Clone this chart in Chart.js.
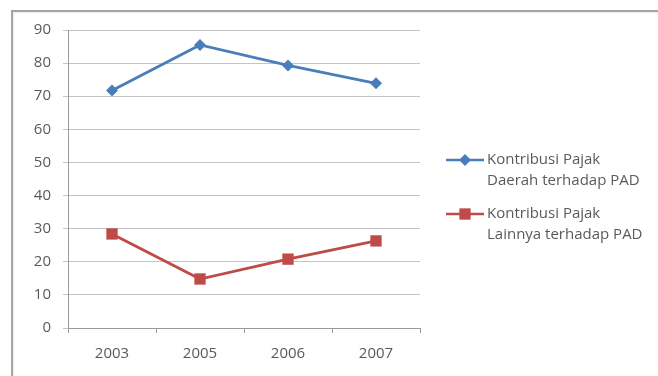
<!DOCTYPE html>
<html>
<head>
<meta charset="utf-8">
<script src="https://cdn.jsdelivr.net/npm/chart.js@4"></script>
<style>
  html, body { margin: 0; padding: 0; background: #fff; }
  body { width: 658px; height: 376px; position: relative; overflow: hidden; }
  #frame {
    position: absolute; left: 11px; top: 10px; width: 720px; height: 420px;
    border-left: 2px solid #a5a5a5; border-top: 2px solid #a5a5a5;
    box-shadow: inset 1px 1px 2px rgba(0,0,0,0.08);
  }
  #wrap { position: absolute; left: 0; top: 0; width: 658px; height: 376px; }
</style>
</head>
<body>
<div id="frame"></div>
<div id="wrap"><canvas id="chart" width="658" height="376"></canvas></div>
<script>
const years = ["2003", "2005", "2006", "2007"];
const pajakDaerah = [71.7, 85.5, 79.3, 73.9];
const pajakLainnya = [28.4, 14.8, 20.8, 26.3];
const labelDaerah = ["Kontribusi Pajak", "Daerah terhadap PAD"];
const labelLainnya = ["Kontribusi Pajak", "Lainnya terhadap PAD"];
const yTicks = [0, 10, 20, 30, 40, 50, 60, 70, 80, 90];

const textColor = "#5a5a5a";
const fontFamily = "'Open Sans', sans-serif";

// legend on the right, drawn by hand so the labels can wrap on two lines
const sideLegend = {
  id: "sideLegend",
  afterDraw(chart) {
    const ctx = chart.ctx;
    const rows = [160, 214];
    ctx.save();
    chart.data.datasets.forEach((ds, i) => {
      const y = rows[i];
      ctx.strokeStyle = ds.borderColor;
      ctx.lineWidth = 2.5;
      ctx.beginPath();
      ctx.moveTo(446, y);
      ctx.lineTo(484, y);
      ctx.stroke();
      ctx.fillStyle = ds.pointBackgroundColor;
      Chart.helpers.drawPoint(ctx, {
        pointStyle: ds.pointStyle,
        radius: ds.pointRadius,
        rotation: 0,
        borderWidth: 0
      }, 465, y);
      ctx.fillStyle = textColor;
      ctx.font = "15px " + fontFamily;
      ctx.textBaseline = "middle";
      ctx.textAlign = "left";
      ds.label.forEach((line, j) => {
        ctx.fillText(line, 487, y + j * 21);
      });
    });
    ctx.restore();
  }
};

new Chart(document.getElementById("chart"), {
  type: "line",
  data: {
    labels: years,
    datasets: [
      {
        label: labelDaerah,
        data: pajakDaerah,
        borderColor: "#4a7ebb",
        backgroundColor: "#4a7ebb",
        pointBackgroundColor: "#4a7ebb",
        pointBorderColor: "#4a7ebb",
        pointStyle: "rectRot",
        pointRadius: 6,
        pointBorderWidth: 0,
        borderWidth: 2.8,
        tension: 0
      },
      {
        label: labelLainnya,
        data: pajakLainnya,
        borderColor: "#be4b48",
        backgroundColor: "#be4b48",
        pointBackgroundColor: "#be4b48",
        pointBorderColor: "#be4b48",
        pointStyle: "rect",
        pointRadius: 8,
        pointBorderWidth: 0,
        borderWidth: 2.8,
        tension: 0
      }
    ]
  },
  options: {
    responsive: false,
    animation: false,
    events: [],
    layout: { padding: { left: 12, top: 30, right: 238, bottom: 8 } },
    plugins: {
      legend: { display: false },
      tooltip: { enabled: false }
    },
    scales: {
      x: {
        offset: true,
        afterFit: (scale) => { scale.height = 40; },
        grid: {
          drawOnChartArea: false,
          drawTicks: true,
          tickLength: 5,
          offset: true,
          color: "#9a9a9a"
        },
        border: { color: "#9a9a9a", width: 1 },
        ticks: {
          color: textColor,
          padding: 12,
          font: { family: fontFamily, size: 15 }
        }
      },
      y: {
        min: 0,
        max: 90,
        afterFit: (scale) => { scale.width = 56; },
        afterBuildTicks: (scale) => { scale.ticks = yTicks.map((v) => ({ value: v })); },
        grid: {
          color: "#c4c4c4",
          tickLength: 5,
          lineWidth: 1
        },
        border: { color: "#9a9a9a", width: 1 },
        ticks: {
          color: textColor,
          padding: 12,
          font: { family: fontFamily, size: 15 }
        }
      }
    }
  },
  plugins: [sideLegend]
});
</script>
</body>
</html>
